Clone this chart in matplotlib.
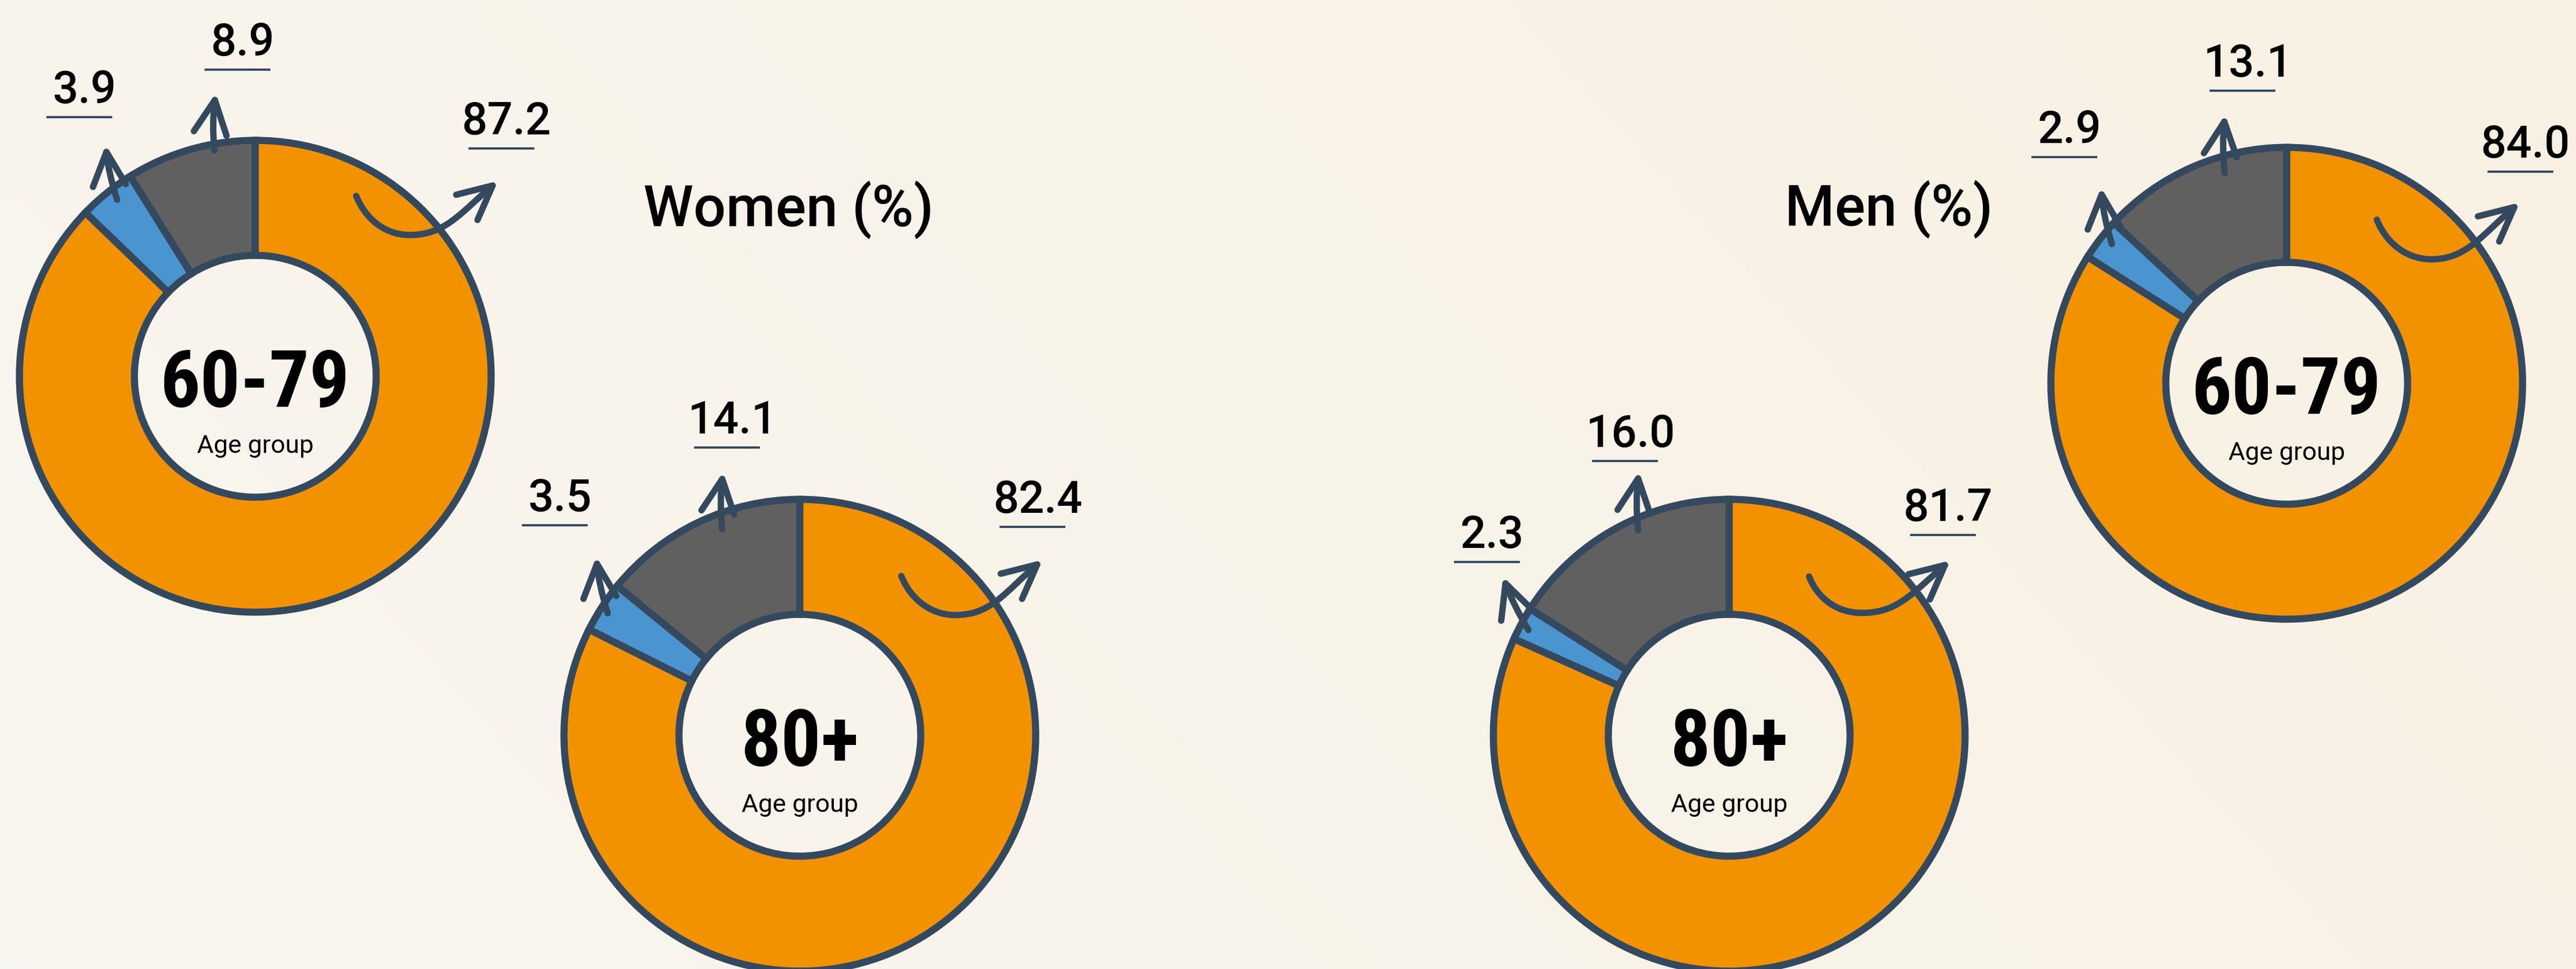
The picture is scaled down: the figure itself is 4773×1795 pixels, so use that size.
import numpy as np
import matplotlib
matplotlib.use('Agg')
import matplotlib.pyplot as plt
from matplotlib.path import Path
from matplotlib.patches import FancyArrowPatch

W, H = 4773, 1795

# shares in %, order: grey, blue, orange (counter-clockwise from 12 o'clock)
women_60_79 = [8.9, 3.9, 87.2]
women_80 = [14.1, 3.5, 82.4]
men_80 = [16.0, 2.3, 81.7]
men_60_79 = [13.1, 2.9, 84.0]

donut_values = [women_60_79, women_80, men_80, men_60_79]
age_groups = ['60-79', '80+', '80+', '60-79']
titles = ['Women (%)', 'Men (%)']

seg_colors = ['#606060', '#4A95D0', '#F29200']
edge = '#35495E'

# layout, in pixels with y going down (like the picture)
centers = [(473, 697), (1482, 1362), (3204, 1362), (4237, 710)]
R_OUT = 437
R_IN = 224
title_pos = [(1461, 419), (3500, 418)]

# value label centres relative to donut centre (grey, blue, orange)
label_off = [
    [(-23, -624), (-316, -536), (466, -478)],
    [(-125, -589), (-444, -445), (441, -442)],
    [(-183, -564), (-439, -377), (406, -427)],
    [(-72, -598), (-402, -475), (443, -448)],
]
# straight-ish arrows: (tail, head) for grey and blue
arrow_off = [
    [((-76, -418), (-73, -525)), ((-256, -327), (-277, -429))],
    [((-144, -382), (-142, -488)), ((-356, -226), (-377, -331))],
    [((-169, -380), (-167, -489)), ((-372, -195), (-419, -294))],
    [((-115, -390), (-114, -498)), ((-324, -258), (-344, -363))],
]
# swoosh arrow for the orange part: start, bottom, end
swoosh_off = [
    ((187, -334), (295, -262), (450, -362)),
    ((188, -295), (297, -223), (450, -325)),
    ((148, -294), (256, -227), (410, -324)),
    ((167, -303), (276, -230), (432, -335)),
]

fig = plt.figure(figsize=(W / 100, H / 100), dpi=100)
ax = fig.add_axes([0, 0, 1, 1])


def P(cx, cy, dx=0, dy=0):
    # picture px -> data coords (y up)
    return (cx + dx, H - (cy + dy))


# background gradient
gx, gy = np.meshgrid(np.linspace(0, 1, 60), np.linspace(0, 1, 60))
t = np.clip((gx * 0.75 + (1 - gy) * 0.25), 0, 1)[..., None]
c0 = np.array([248, 246, 240]) / 255
c1 = np.array([249, 241, 227]) / 255
ax.imshow(c0 * (1 - t) + c1 * t, extent=[0, W, 0, H], origin='upper',
          interpolation='bilinear', zorder=0, aspect='auto')

for i, vals in enumerate(donut_values):
    cx, cy = centers[i]
    center = P(cx, cy)
    ax.pie(vals, colors=seg_colors, startangle=90, counterclock=True,
           radius=R_OUT, center=center,
           wedgeprops=dict(width=R_OUT - R_IN, edgecolor=edge, linewidth=9.5,
                           joinstyle='miter'))

    # centre text
    ax.text(center[0], center[1] - 57, age_groups[i], ha='center', va='baseline',
            fontsize=106, fontweight='bold', color='black',
            family=['Roboto Condensed', 'Liberation Sans Narrow', 'DejaVu Sans'], zorder=5)
    ax.text(center[0], center[1] - 142, 'Age group', ha='center', va='baseline',
            fontsize=34, fontweight='normal', color='black', family=['Roboto', 'DejaVu Sans'], zorder=5)

    # value labels with underline
    for k, v in enumerate(vals):
        dx, dy = label_off[i][k]
        x, y = P(cx, cy, dx, dy)
        ax.text(x, y - 30, f'{v:.1f}', ha='center', va='baseline', fontsize=60,
                fontweight='medium', color='black', family=['Roboto', 'DejaVu Sans'], zorder=5)
        ax.plot([x - 71, x + 51], [y - 56, y - 56], color=edge, lw=3, solid_capstyle='butt', zorder=5)

    # arrows for grey and blue parts
    for (tail, head) in arrow_off[i]:
        p0 = np.array(P(cx, cy, *tail))
        p2 = np.array(P(cx, cy, *head))
        mid = (p0 + p2) / 2 + np.array([-6, 0])
        path = Path([p0, mid, p2], [Path.MOVETO, Path.CURVE3, Path.CURVE3])
        ax.add_patch(FancyArrowPatch(path=path, arrowstyle='->,head_length=0.45,head_width=0.22',
                                     mutation_scale=100, color=edge, lw=8.5,
                                     capstyle='round', joinstyle='round', zorder=6))

    # swoosh arrow for the orange part
    s, m, e = [np.array(p) for p in swoosh_off[i]]
    verts = [s, s + (18, 45), m + (-50, 4), m,
             m + (60, -3), e + (-65, 55), e]
    verts = [P(cx, cy, *v) for v in verts]
    codes = [Path.MOVETO] + [Path.CURVE4] * 6
    ax.add_patch(FancyArrowPatch(path=Path(verts, codes),
                                 arrowstyle='->,head_length=0.45,head_width=0.22',
                                 mutation_scale=100, color=edge, lw=8.5,
                                 capstyle='round', joinstyle='round', zorder=6))

for title, (tx, ty) in zip(titles, title_pos):
    x, y = P(tx, ty)
    ax.text(x, y, title, ha='center', va='baseline', fontsize=76, fontweight='medium',
            color='black', family=['Roboto', 'DejaVu Sans'], zorder=5)

ax.set_aspect('equal')
ax.set_xlim(0, W)
ax.set_ylim(0, H)
ax.axis('off')

fig.savefig('out.png', dpi=100)
